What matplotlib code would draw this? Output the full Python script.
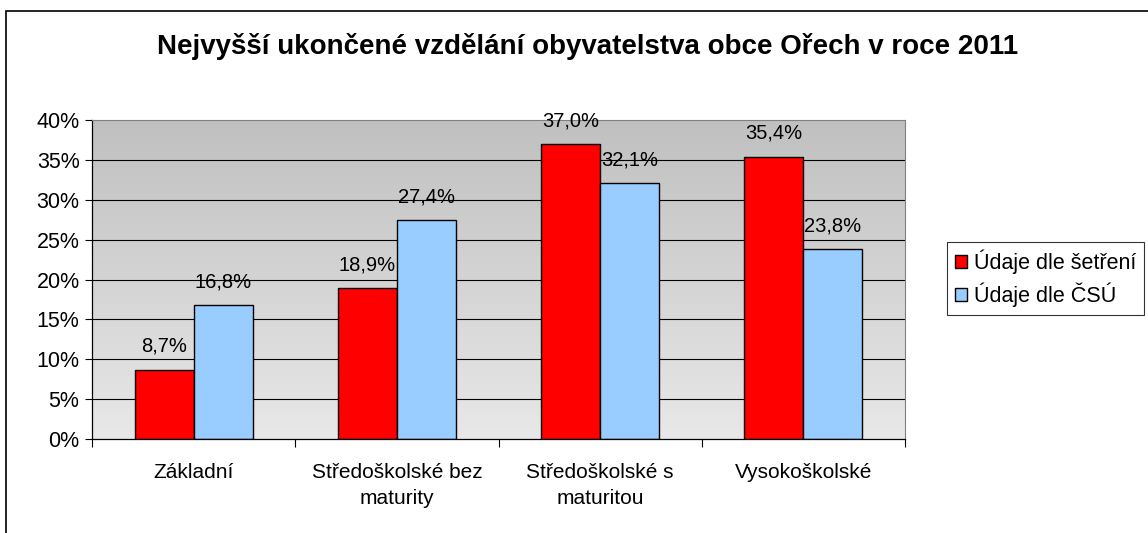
import numpy as np
import matplotlib.pyplot as plt
from matplotlib.colors import LinearSegmentedColormap
from matplotlib.patches import Rectangle

plt.rcParams['font.family'] = ['Liberation Sans', 'DejaVu Sans']

# --- Data ---
categories = ["Základní", "Středoškolské bez\nmaturity", "Středoškolské s\nmaturitou", "Vysokoškolské"]
survey = [8.7, 18.9, 37.0, 35.4]
csu = [16.8, 27.4, 32.1, 23.8]
series_names = ["Údaje dle šetření", "Údaje dle ČSÚ"]
title = "Nejvyšší ukončené vzdělání obyvatelstva obce Ořech v roce 2011"

W, H = 1148, 533
fig = plt.figure(figsize=(W / 100, H / 100), dpi=100)
ax = fig.add_axes([92 / W, 1 - 439 / H, (905 - 92) / W, (439 - 120) / H])

x = np.arange(len(categories))
bw = 0.29

# gradient background (darker at the top)
grad = np.linspace(0, 1, 256).reshape(-1, 1)
bg = LinearSegmentedColormap.from_list("bg", ["#c0c0c0", "#e8e8e8"])
ax.imshow(grad, cmap=bg, aspect='auto', origin='upper',
          extent=(-0.5, len(categories) - 0.5, 0, 40), zorder=0)
ax.set_xlim(-0.5, len(categories) - 0.5)
ax.set_ylim(0, 40)

for y in range(5, 40, 5):
    ax.axhline(y, color='black', lw=0.8, zorder=1)

b1 = ax.bar(x - bw / 2, survey, bw, color='#ff0000', edgecolor='black', lw=1.0, zorder=2, label=series_names[0])
b2 = ax.bar(x + bw / 2, csu, bw, color='#99ccff', edgecolor='black', lw=1.0, zorder=2, label=series_names[1])

fmt = lambda v: f"{v:.1f}".replace('.', ',') + '%'
ax.bar_label(b1, labels=[fmt(v) for v in survey], padding=10, fontsize=14.5)
ax.bar_label(b2, labels=[fmt(v) for v in csu], padding=10, fontsize=14.5)

ax.set_yticks(range(0, 41, 5))
ax.set_yticklabels([f"{v}%" for v in range(0, 41, 5)], fontsize=15.5)
ax.tick_params(axis='y', length=5, width=0.8, pad=4)

# category boundaries as ticks, names as minor labels
ax.set_xticks(np.arange(-0.5, len(categories), 1.0))
ax.set_xticklabels([])
ax.tick_params(axis='x', which='major', length=6, width=0.8)
ax.set_xticks(x, minor=True)
ax.set_xticklabels(categories, minor=True, fontsize=15, linespacing=1.5)
ax.tick_params(axis='x', which='minor', length=0, pad=17)

for s in ['top', 'right']:
    ax.spines[s].set_color('#808080')
for s in ['left', 'bottom']:
    ax.spines[s].set_color('black')
    ax.spines[s].set_linewidth(0.9)

fig.text(588 / W, 1 - 47 / H, title, ha='center', va='center', fontsize=20, fontweight='bold')

leg = fig.legend(handles=[b1, b2], loc='upper left', bbox_to_anchor=(947 / W, 1 - 242 / H),
                 fontsize=15.5, frameon=True, fancybox=False, handlelength=0.6, handleheight=0.6,
                 handletextpad=0.3, borderpad=0.35, labelspacing=0.4, borderaxespad=0)
leg.get_frame().set_edgecolor('black')
leg.get_frame().set_linewidth(0.8)

# outer chart border (cut off on right and bottom)
fig.patches.append(Rectangle((6 / W, -0.1), 1.2, (H - 11) / H + 0.1, transform=fig.transFigure,
                             fill=False, edgecolor='black', lw=1.2))

fig.savefig("out.png", dpi=100)
